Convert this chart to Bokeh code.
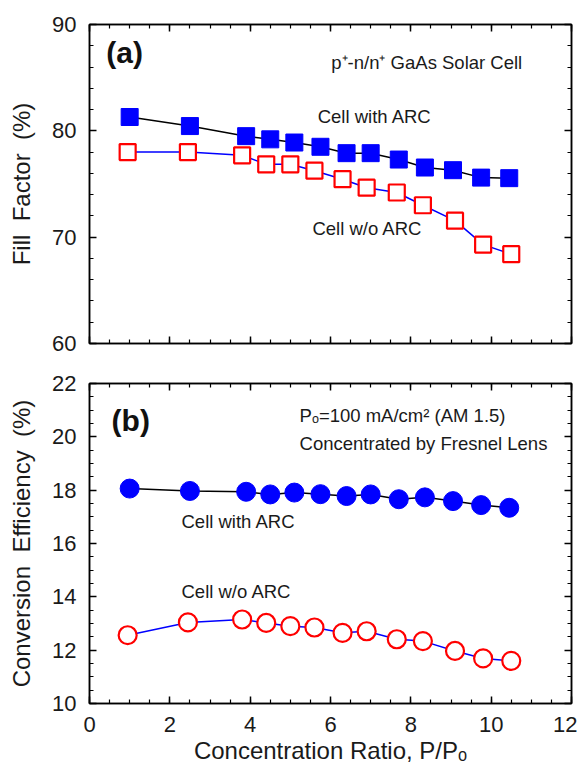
from bokeh.plotting import figure
from bokeh.models import Range1d, LinearAxis, SingleIntervalTicker, CustomJSTickFormatter, CustomLabelingPolicy
from bokeh.layouts import column
from bokeh.core.properties import value
from bokeh.embed import file_html
from bokeh.resources import INLINE

# ---- data ----
x_arc = [1.0, 2.5, 3.9, 4.5, 5.1, 5.75, 6.4, 7.0, 7.7, 8.35, 9.05, 9.75, 10.45]
x_noarc = [0.95, 2.45, 3.8, 4.4, 5.0, 5.6, 6.3, 6.9, 7.65, 8.3, 9.1, 9.8, 10.5]
ff_arc = [81.3, 80.45, 79.5, 79.2, 78.9, 78.5, 77.9, 77.9, 77.3, 76.55, 76.3, 75.6, 75.55]
ff_noarc = [78.0, 78.0, 77.7, 76.85, 76.85, 76.25, 75.45, 74.65, 74.2, 73.0, 71.55, 69.3, 68.4]
eff_arc = [18.06, 17.97, 17.94, 17.84, 17.91, 17.85, 17.78, 17.84, 17.66, 17.73, 17.59, 17.44, 17.34]
eff_noarc = [12.56, 13.04, 13.15, 13.02, 12.9, 12.85, 12.65, 12.71, 12.41, 12.34, 11.97, 11.69, 11.6]

FONT = "Liberation Sans"
TICK_COL = "#1a1a1a"
NB = "\u00a0"


def style_axis(ax, major, minor, labels=True):
    ax.ticker = SingleIntervalTicker(interval=major, num_minor_ticks=minor)
    ax.axis_line_color = "black"
    ax.axis_line_width = 1.5
    ax.major_tick_line_color = "black"
    ax.major_tick_line_width = 1.5
    ax.minor_tick_line_color = "black"
    ax.minor_tick_line_width = 1.2
    ax.major_tick_in = 7
    ax.major_tick_out = 0
    ax.minor_tick_in = 4
    ax.minor_tick_out = 0
    ax.major_label_text_font = FONT
    ax.major_label_text_color = TICK_COL
    ax.axis_label_text_font = FONT
    ax.axis_label_text_font_style = "normal"
    ax.axis_label_text_color = TICK_COL
    ax.major_label_text_font_size = "22px"
    ax.axis_label_text_font_size = "24px"
    if labels:
        ax.major_label_standoff = 13
    else:
        ax.formatter = CustomJSTickFormatter(code="return ''")
        ax.major_label_policy = CustomLabelingPolicy(
            code="for (const i of indices) indices.unset(i)")
        ax.major_label_standoff = 0


def make_fig(yr, ymajor, yminor, ylabel, show_x, bt, bb, fh):
    p = figure(frame_width=482, frame_height=fh, output_backend="svg",
               toolbar_location=None, x_range=Range1d(0, 12), y_range=yr,
               x_axis_location=None, y_axis_location=None,
               min_border_left=89, min_border_right=6,
               min_border_top=bt, min_border_bottom=bb)
    p.xgrid.visible = False
    p.ygrid.visible = False
    p.outline_line_color = "black"
    p.outline_line_width = 1.5
    p.background_fill_color = "white"
    p.border_fill_color = "white"

    left = LinearAxis(axis_label=ylabel)
    style_axis(left, ymajor, yminor, True)
    left.axis_label_standoff = 14
    p.add_layout(left, "left")
    right = LinearAxis()
    style_axis(right, ymajor, yminor, False)
    p.add_layout(right, "right")

    bottom = LinearAxis(axis_label="Concentration Ratio, P/Pₒ" if show_x else None)
    style_axis(bottom, 2, 4, show_x)
    if show_x:
        bottom.axis_label_standoff = 2
    p.add_layout(bottom, "below")
    top = LinearAxis()
    style_axis(top, 2, 4, False)
    p.add_layout(top, "above")
    return p


def note(p, x, y, txt, size="18.5px", bold=False):
    p.text(x=[x], y=[y], text=[txt], text_font=value(FONT), text_font_size=size,
           text_font_style="bold" if bold else "normal", text_baseline="middle",
           text_align="left", text_color="#111111" if bold else TICK_COL)


# ---- (a) fill factor ----
pa = make_fig(Range1d(60, 90), 10, 5, "Fill" + NB + " Factor" + NB + " (%)", False, 24, 20, 319)
pa.line(x_arc, ff_arc, line_color="black", line_width=1.5)
pa.line(x_noarc, ff_noarc, line_color="blue", line_width=1.5)
pa.scatter(x_arc, ff_arc, marker="square", size=17, fill_color="blue", line_color="blue")
pa.scatter(x_noarc, ff_noarc, marker="square", size=16, fill_color="white",
           line_color="red", line_width=2.2)

note(pa, 0.42, 87.4, "(a)", "30px", True)
note(pa, 6.02, 86.45, "p⁺-n/n⁺ GaAs Solar Cell")
note(pa, 5.68, 81.38, "Cell with ARC")
note(pa, 5.55, 70.77, "Cell w/o ARC")

# ---- (b) conversion efficiency ----
pb = make_fig(Range1d(10, 22), 2, 4, "Conversion" + NB + " Efficiency" + NB + " (%)", True, 20, 54, 320)
pb.line(x_arc, eff_arc, line_color="black", line_width=1.5)
pb.line(x_noarc, eff_noarc, line_color="blue", line_width=1.5)
pb.scatter(x_arc, eff_arc, marker="circle", size=19, fill_color="blue", line_color="blue")
pb.scatter(x_noarc, eff_noarc, marker="circle", size=18, fill_color="white",
           line_color="red", line_width=2.2)

note(pb, 0.55, 20.62, "(b)", "30px", True)
note(pb, 5.23, 20.81, "Pₒ=100 mA/cm² (AM 1.5)")
note(pb, 5.23, 19.76, "Concentrated by Fresnel Lens")
note(pb, 2.29, 16.84, "Cell with ARC")
note(pb, 2.29, 14.21, "Cell w/o ARC")

layout = column(pa, pb, spacing=0)
open("out.html", "w").write(file_html(layout, INLINE))
